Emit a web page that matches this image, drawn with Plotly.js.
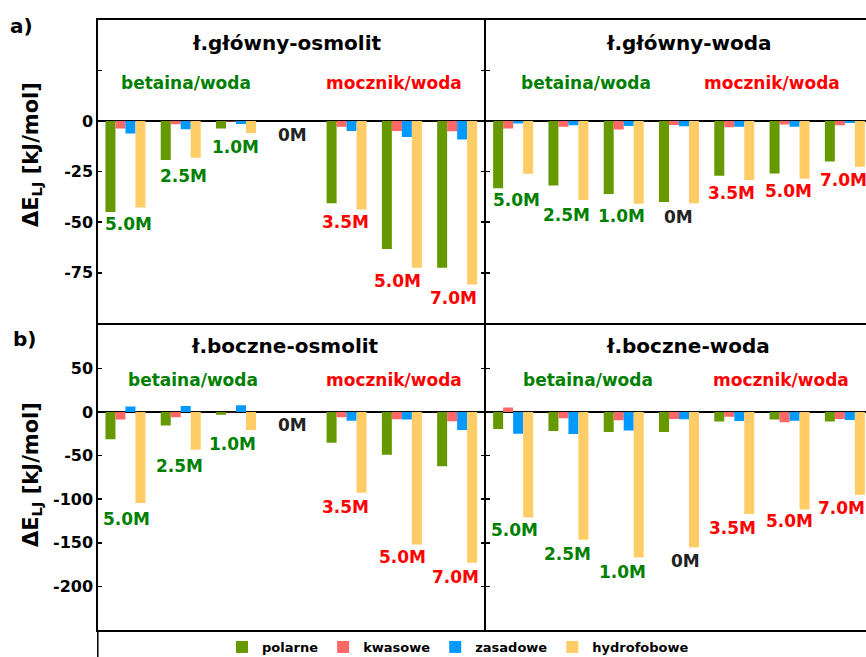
<!DOCTYPE html>
<html>
<head>
<meta charset="utf-8">
<script src="https://cdn.plot.ly/plotly-3.0.1.min.js"></script>
<style>html,body{margin:0;padding:0;background:#fff;}#chart{width:866px;height:657px;}</style>
</head>
<body>
<div id="chart"></div>
<script>
// ---------- DATA ----------
const categories = ['betaina 5.0M','betaina 2.5M','betaina 1.0M','0M','mocznik 3.5M','mocznik 5.0M','mocznik 7.0M'];
const concLabels = ['5.0M','2.5M','1.0M','0M','3.5M','5.0M','7.0M'];
const seriesNames = ['polarne','kwasowe','zasadowe','hydrofobowe'];
const panelTitles = ['ł.główny-osmolit','ł.główny-woda','ł.boczne-osmolit','ł.boczne-woda'];
const osmolyteLabels = ['betaina/woda','mocznik/woda'];
const yTitle = 'ΔE<sub>LJ</sub> [kJ/mol]';
const rowLabels = ['a)','b)'];

// a) ł.główny-osmolit
const mainOsm_polarne     = [-45.0, -19.3, -3.7, null, -40.6, -63.2, -72.5];
const mainOsm_kwasowe     = [-3.7, -1.6, -0.3, null, -2.9, -4.9, -5.1];
const mainOsm_zasadowe    = [-6.2, -4.1, -1.5, null, -4.9, -7.9, -9.2];
const mainOsm_hydrofobowe = [-42.7, -18.2, -5.9, null, -43.7, -72.5, -80.7];
// a) ł.główny-woda
const mainWat_polarne     = [-33.2, -31.9, -36.0, -40.0, -27.0, -25.9, -20.0];
const mainWat_kwasowe     = [-3.7, -2.9, -4.2, -2.0, -3.1, -1.8, -2.1];
const mainWat_zasadowe    = [-1.3, -2.1, -2.5, -2.6, -2.9, -2.9, -1.0];
const mainWat_hydrofobowe = [-26.0, -39.0, -40.9, -40.6, -29.1, -28.5, -22.6];
// b) ł.boczne-osmolit
const sideOsm_polarne     = [-31.4, -15.7, -3.1, null, -35.2, -49.0, -62.4];
const sideOsm_kwasowe     = [-8.8, -6.1, -0.5, null, -6.1, -8.4, -10.7];
const sideOsm_zasadowe    = [6.1, 6.9, 7.7, null, -10.0, -8.8, -20.7];
const sideOsm_hydrofobowe = [-104.5, -43.3, -20.7, null, -92.6, -152.0, -173.0];
// b) ł.boczne-woda
const sideWat_polarne     = [-19.5, -21.8, -23.0, -23.0, -11.1, -8.8, -11.1];
const sideWat_kwasowe     = [5.0, -7.3, -9.6, -8.0, -5.4, -11.9, -8.0];
const sideWat_zasadowe    = [-24.9, -25.3, -21.4, -8.4, -10.3, -10.0, -9.2];
const sideWat_hydrofobowe = [-121.0, -146.6, -166.9, -155.0, -117.0, -111.8, -95.0];

const topTickVals = [-75, -50, -25, 0];
const topTickText = ['-75', '-50', '-25', '0'];
const topMinorTicks = [25];
const botTickVals = [-200, -150, -100, -50, 0, 50];
const botTickText = ['-200', '-150', '-100', '-50', '0', '50'];

// ---------- STYLE ----------
const W = 866, H = 657;
const FONT = 'DejaVu Sans';
const seriesColors = ['#669900', '#ff6666', '#0099ff', '#ffcc66'];
const labelColors = ['#008000','#008000','#008000','#222222','#ff0000','#ff0000','#ff0000'];

const panels = [
  {data:[mainOsm_polarne, mainOsm_kwasowe, mainOsm_zasadowe, mainOsm_hydrofobowe], xa:'x',  ya:'y'},
  {data:[mainWat_polarne, mainWat_kwasowe, mainWat_zasadowe, mainWat_hydrofobowe], xa:'x2', ya:'y2'},
  {data:[sideOsm_polarne, sideOsm_kwasowe, sideOsm_zasadowe, sideOsm_hydrofobowe], xa:'x3', ya:'y3'},
  {data:[sideWat_polarne, sideWat_kwasowe, sideWat_zasadowe, sideWat_hydrofobowe], xa:'x4', ya:'y4'}
];

const traces = [];
panels.forEach((p, pi) => {
  p.data.forEach((vals, si) => {
    traces.push({
      type: 'bar', x: categories, y: vals, name: seriesNames[si],
      xaxis: p.xa, yaxis: p.ya, legendgroup: seriesNames[si],
      showlegend: pi === 0,
      marker: {color: seriesColors[si], line: {width: 0}},
      hoverinfo: 'skip'
    });
  });
});

const px = x => x / W;
const py = y => 1 - y / H;

const leftDom = [px(97.8), px(484.8)];
const rightDom = [px(485.5), 1];
const slot = (484.8 - 97.8) / 7;
const rightMax = -0.5 + (W - 485.5) / slot;
const topDom = [py(323.5), py(19.7)];
const botDom = [py(630), py(324.7)];

function xax(dom, anchor, rmax) {
  return {domain: dom, anchor: anchor, type: 'category', categoryorder: 'array', categoryarray: categories,
    range: [-0.5, rmax], showline: true, mirror: true, linecolor: '#000', linewidth: 1.5,
    ticks: '', showticklabels: false, showgrid: false, zeroline: false, fixedrange: true};
}
function yax(dom, anchor, range, tv, tt, minorVals, showLabels, mirror) {
  const a = {domain: dom, anchor: anchor, range: range, showline: true, mirror: mirror,
    linecolor: '#000', linewidth: 1.5, ticks: 'inside', ticklen: 4, tickwidth: 1.5, tickcolor: '#000',
    tickmode: 'array', tickvals: tv, ticktext: tt, showticklabels: showLabels,
    tickfont: {family: FONT, size: 16, color: '#000', weight: 'bold'},
    showgrid: false, zeroline: true, zerolinecolor: '#000', zerolinewidth: 2.5, fixedrange: true};
  if (minorVals) a.minor = {tickmode: 'array', tickvals: minorVals, ticks: 'inside', ticklen: 4,
    tickwidth: 1.5, tickcolor: '#000', showgrid: false};
  return a;
}

const annotations = [];
function ann(text, x, y, size, color, extra) {
  annotations.push(Object.assign({text: text, x: px(x), y: py(y), xref: 'paper', yref: 'paper',
    xanchor: 'center', yanchor: 'middle', showarrow: false,
    font: {family: FONT, size: size, color: color, weight: 'bold'}}, extra || {}));
}
// panel titles
ann(panelTitles[0], 286, 43, 20, '#000');
ann(panelTitles[1], 689, 43, 20, '#000');
ann(panelTitles[2], 285, 346, 20, '#000');
ann(panelTitles[3], 688, 346, 20, '#000');
// osmolyte labels
ann(osmolyteLabels[0], 185.5, 83, 17, '#008000');
ann(osmolyteLabels[1], 394, 83, 17, '#ff0000');
ann(osmolyteLabels[0], 586, 83, 17, '#008000');
ann(osmolyteLabels[1], 772, 83, 17, '#ff0000');
ann(osmolyteLabels[0], 193, 380, 17, '#008000');
ann(osmolyteLabels[1], 394, 380, 17, '#ff0000');
ann(osmolyteLabels[0], 588, 380, 17, '#008000');
ann(osmolyteLabels[1], 781, 380, 17, '#ff0000');
// concentration label positions (pixels) per panel
const labelPos = [
  [[128.5,224],[183,176],[235,147],[292,135],[345,222],[397,281],[453.5,298]],
  [[516.7,200],[566,215],[621.7,216],[678,217],[731.7,193],[788,191],[843,180]],
  [[126.3,519],[179,466],[232.7,444],[292,425],[345,507],[402,557],[455,577]],
  [[514.3,530],[567.5,554],[622,572],[685,561],[732.5,528],[789,521],[841.5,508]]
];
labelPos.forEach(pp => pp.forEach((pos, i) => ann(concLabels[i], pos[0], pos[1], 17, labelColors[i])));
// y titles and row labels
ann(yTitle, 32, 155, 21, '#000', {textangle: -90});
ann(yTitle, 32, 475, 21, '#000', {textangle: -90});
ann(rowLabels[0], 21.5, 26, 20, '#000');
ann(rowLabels[1], 24.5, 339, 20, '#000');

const layout = {
  width: W, height: H, margin: {l: 0, r: 0, t: 0, b: 0, pad: 0, autoexpand: false},
  paper_bgcolor: '#fff', plot_bgcolor: 'rgba(0,0,0,0)',
  font: {family: FONT, color: '#000'},
  barmode: 'group', bargap: 1 - 40 / slot, bargroupgap: 0,
  xaxis:  xax(leftDom, 'y', 6.5),
  yaxis:  yax(topDom, 'x', [-100, 50], topTickVals, topTickText, topMinorTicks, true, 'ticks'),
  xaxis2: xax(rightDom, 'y2', rightMax),
  yaxis2: yax(topDom, 'x2', [-100, 50], topTickVals, topTickText, topMinorTicks, false, false),
  xaxis3: xax(leftDom, 'y3', 6.5),
  yaxis3: yax(botDom, 'x3', [-250, 100], botTickVals, botTickText, null, true, 'ticks'),
  xaxis4: xax(rightDom, 'y4', rightMax),
  yaxis4: yax(botDom, 'x4', [-250, 100], botTickVals, botTickText, null, false, false),
  showlegend: true,
  legend: {orientation: 'h', x: px(222), xanchor: 'left', y: py(647), yanchor: 'middle',
    bgcolor: 'rgba(0,0,0,0)', borderwidth: 0, traceorder: 'normal',
    font: {family: FONT, size: 13, color: '#000', weight: 'bold'}},
  shapes: [{type: 'line', xref: 'paper', yref: 'paper', x0: px(97.8), x1: px(97.8), y0: 0, y1: py(630),
    line: {color: '#000', width: 1.5}}],
  annotations: annotations
};

Plotly.newPlot('chart', traces, layout, {displayModeBar: false, staticPlot: true});
</script>
</body>
</html>
